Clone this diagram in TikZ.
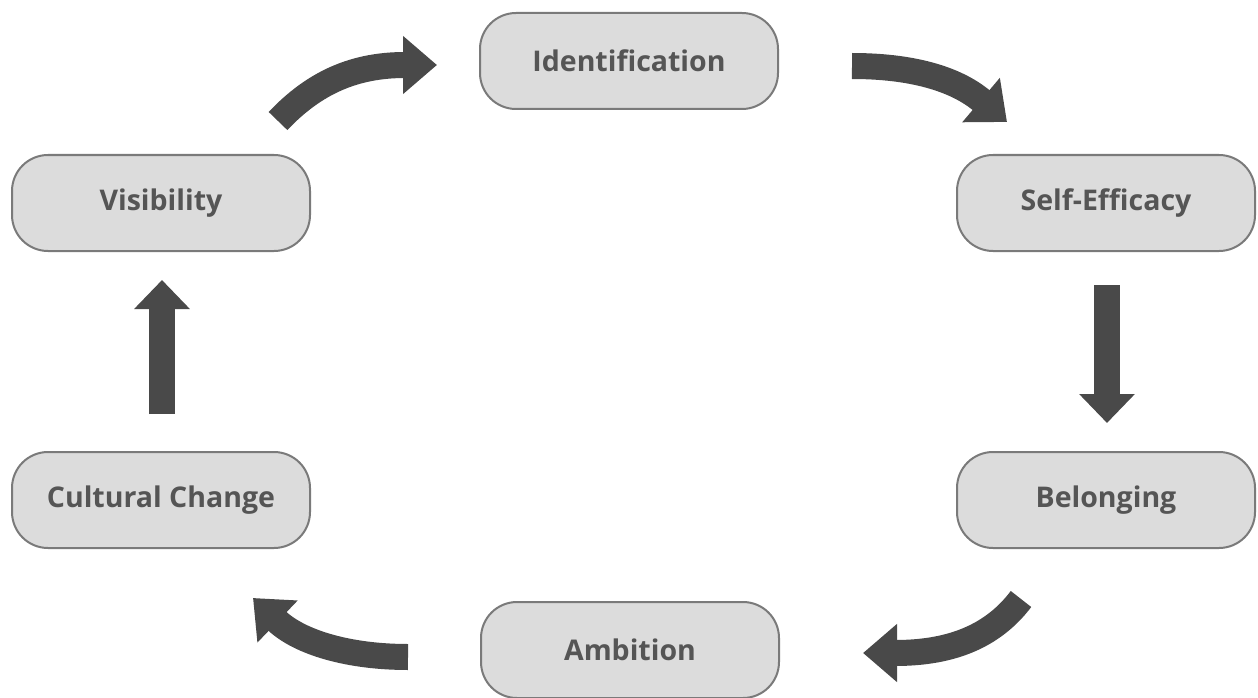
\documentclass[tikz,border=0pt]{standalone}
\usepackage{fontspec}
\setmainfont{Open Sans}
\usetikzlibrary{arrows.meta}
\definecolor{boxfill}{HTML}{DCDCDC}
\definecolor{boxline}{HTML}{7A7A7A}
\definecolor{boxtext}{HTML}{555555}
\definecolor{arrowcol}{HTML}{494949}
\begin{document}
\begin{tikzpicture}[x=1pt,y=-1pt,
  stage/.style={draw=boxline, line width=2pt, fill=boxfill, rounded corners=36pt,
    minimum width=298pt, minimum height=96pt, inner sep=0pt,
    font=\fontsize{28.5}{32}\selectfont\bfseries, text=boxtext},
  flow/.style={draw=arrowcol, line width=26pt,
    -{Triangle[width=56pt,length=34pt]}, arrowcol},
  flowv/.style={draw=arrowcol, line width=26pt,
    -{Triangle[width=54pt,length=29pt]}, arrowcol}]
\useasboundingbox (0,0) rectangle (1258,698);
\node[stage] (ident) at (629,61) {Identification};
\node[stage] (self) at (1106,203) {Self-Efficacy};
\node[stage] (belong) at (1106,500) {Belonging};
\node[stage] (ambit) at (630,650) {Ambition};
\node[stage] (cult) at (161,500) {Cultural Change};
\node[stage] (vis) at (161,203) {Visibility};
% arrow end points (tips)
\coordinate (a1s) at (278,121); \coordinate (a1e) at (437,65);
\coordinate (a2s) at (852,66);  \coordinate (a2e) at (1007,122);
\coordinate (a3s) at (1107,285); \coordinate (a3e) at (1107,423);
\coordinate (a4s) at (1021,599); \coordinate (a4e) at (863,653);
\coordinate (a5s) at (408,657); \coordinate (a5e) at (253,598);
\coordinate (a6s) at (162,414); \coordinate (a6e) at (162,280);
\draw[flow] (a1s) .. controls (315,82) and (355,65) .. (a1e);
\draw[flow] (a2s) .. controls (910,66) and (955,78) .. (a2e);
\draw[flowv] (a3s) -- (a3e);
\draw[flow] (a4s) .. controls (990,640) and (945,653) .. (a4e);
\draw[flow] (a5s) .. controls (350,657) and (300,643) .. (a5e);
\draw[flowv] (a6s) -- (a6e);
\end{tikzpicture}
\end{document}
